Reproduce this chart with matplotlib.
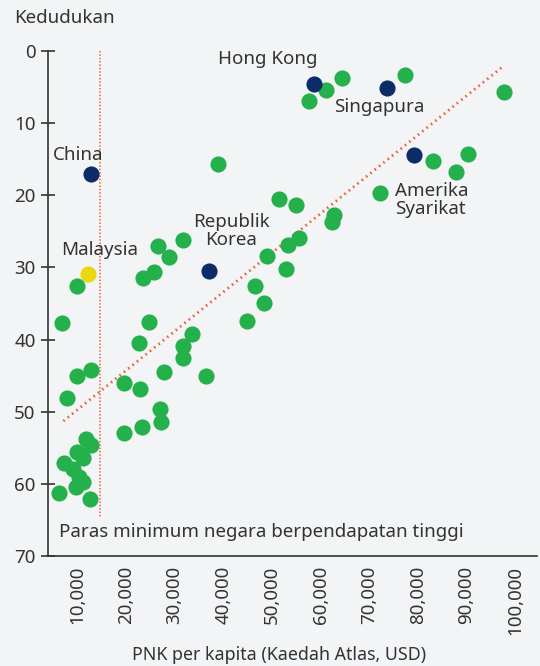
import numpy as np
import matplotlib.pyplot as plt

# GNI per capita (USD, Atlas) and rank for each economy
green_gni = [61100, 64400, 57600, 77300, 97700, 83100, 87800, 90300, 72200, 38900,
             51400, 54900, 62700, 62300, 31700, 55500, 53300, 49000, 52900, 26500,
             28800, 25700, 23500, 9900, 46500, 48300, 44900, 6800, 24700, 33500,
             22600, 31700, 31700, 12800, 9900, 19600, 22900, 27800, 36400, 7800,
             27000, 27200, 19600, 23300, 11700, 12800, 9900, 11100, 7200, 9100,
             10300, 11100, 9700, 6200, 12600]
green_rank = [5.4, 3.7, 6.9, 3.3, 5.7, 15.2, 16.8, 14.3, 19.7, 15.7,
              20.5, 21.3, 22.7, 23.7, 26.2, 25.9, 26.9, 28.4, 30.2, 27.0,
              28.6, 30.6, 31.5, 32.6, 32.6, 34.9, 37.4, 37.7, 37.6, 39.2,
              40.5, 40.9, 42.6, 44.2, 45.0, 46.0, 46.8, 44.5, 45.0, 48.1,
              49.6, 51.4, 52.9, 52.1, 53.8, 54.6, 55.6, 56.4, 57.1, 57.9,
              59.0, 59.7, 60.4, 61.3, 62.1]

hl_names = ['Hong Kong', 'Singapura', 'Amerika\nSyarikat', 'China', 'Republik\nKorea']
hl_gni = [58600, 73600, 79200, 12800, 37000]
hl_rank = [4.6, 5.1, 14.4, 17.0, 30.5]

my_gni = [12200]
my_rank = [30.9]

trend_gni = [7100, 97200]
trend_rank = [51.3, 2.3]

threshold_gni = 14600
threshold_top, threshold_bottom = 0, 64.8

xticks = [10000, 20000, 30000, 40000, 50000, 60000, 70000, 80000, 90000, 100000]
yticks = [0, 10, 20, 30, 40, 50, 60, 70]

bg = '#f2f4f6'
txt = '#333333'
plt.rcParams['font.family'] = ['Noto Sans', 'DejaVu Sans']
plt.rcParams['text.color'] = txt

fig = plt.figure(figsize=(5.4, 6.66), dpi=100, facecolor=bg)
ax = fig.add_axes([0.0889, 0.1652, 0.9055, 0.7582], facecolor=bg)

ax.plot([threshold_gni, threshold_gni], [threshold_top, threshold_bottom],
        color='#f0603f', lw=1.1, ls=(0, (1, 1.2)), zorder=1)
ax.plot(trend_gni, trend_rank, color='#f0603f', lw=2, ls=(0, (0.6, 1.4)),
        dash_capstyle='butt', zorder=2)

ax.scatter(green_gni, green_rank, s=135, color='#24b04b', lw=0, zorder=3)
ax.scatter(hl_gni, hl_rank, s=135, color='#0b2c66', lw=0, zorder=4)
ax.scatter(my_gni, my_rank, s=135, color='#ead80e', lw=0, zorder=4)

fs = 13.5
ax.text(49200, 1.1, 'Hong Kong', ha='center', va='center', fontsize=fs)
ax.text(72000, 7.8, 'Singapura', ha='center', va='center', fontsize=fs)
ax.text(75300, 20.6, 'Amerika\nSyarikat', ha='left', va='center', fontsize=fs,
        linespacing=1.0)
ax.text(10100, 14.4, 'China', ha='center', va='center', fontsize=fs)
ax.text(41600, 24.9, 'Republik\nKorea', ha='center', va='center', fontsize=fs,
        linespacing=1.0)
ax.text(14600, 27.6, 'Malaysia', ha='center', va='center', fontsize=fs)
ax.text(6300, 66.7, 'Paras minimum negara berpendapatan tinggi', ha='left',
        va='center', fontsize=fs)

ax.set_xlim(3950, 104500)
ax.set_ylim(70, 0)
ax.set_xticks(xticks)
ax.set_xticklabels([f'{v:,}' for v in xticks], rotation=90, fontsize=fs)
ax.set_yticks(yticks)
ax.set_yticklabels([str(v) for v in yticks], fontsize=fs)
ax.tick_params(axis='x', length=0, pad=7, colors=txt)
ax.tick_params(axis='y', direction='inout', length=10, width=1.2, pad=4, colors=txt)

for s in ['top', 'right']:
    ax.spines[s].set_visible(False)
for s in ['left', 'bottom']:
    ax.spines[s].set_color('#333333')
    ax.spines[s].set_linewidth(1.2)

fig.text(0.026, 0.973, 'Kedudukan', ha='left', va='center', fontsize=fs)
fig.text(0.517, 0.0165, 'PNK per kapita (Kaedah Atlas, USD)', ha='center',
         va='center', fontsize=12.8)

fig.savefig('out.png', dpi=100, facecolor=bg)
